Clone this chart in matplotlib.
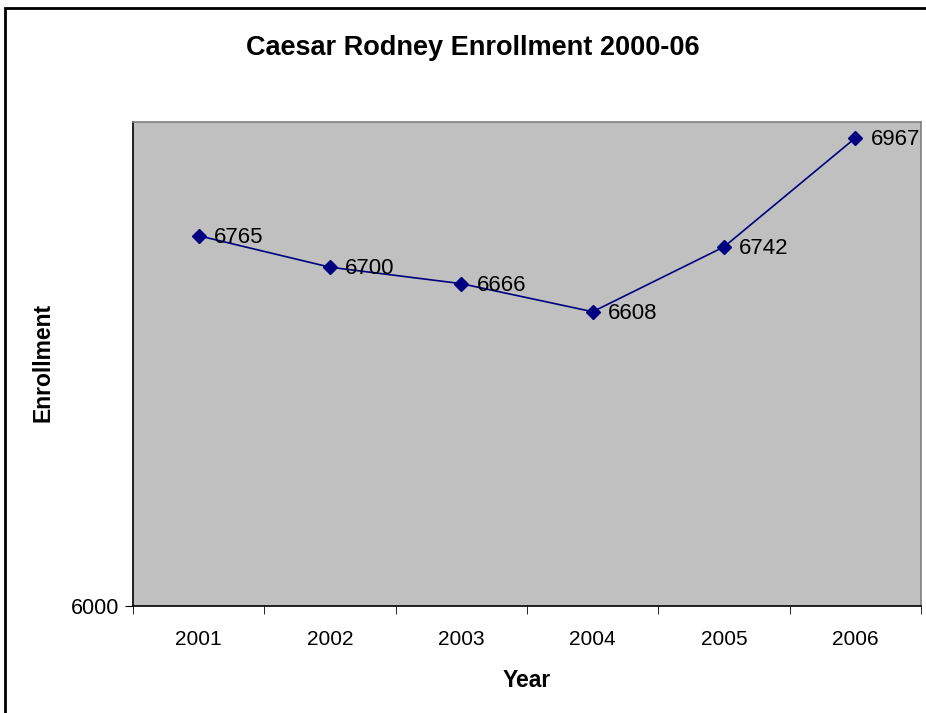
import matplotlib.pyplot as plt
import matplotlib.patches as patches
import numpy as np

# Données du graphique
years = ["2001", "2002", "2003", "2004", "2005", "2006"]
enrollment = [6765, 6700, 6666, 6608, 6742, 6967]

plt.rcParams['font.family'] = ['Liberation Sans', 'DejaVu Sans']

fig = plt.figure(figsize=(9.26, 7.13), dpi=100)
W, H = 926, 713

# Cadre noir autour de la figure (bords droit et bas hors image)
fig.patches.append(patches.Rectangle((5 / W, -0.05), 1.1, 1 - 8 / H + 0.05,
                                     transform=fig.transFigure, fill=False,
                                     edgecolor="black", linewidth=2))

ax = fig.add_axes([133 / W, (H - 606) / H, 788 / W, 484 / H])
ax.set_facecolor("#C0C0C0")

x = np.arange(len(years))
ax.plot(x, enrollment, color="#000080", linewidth=1.2, marker="D",
        markersize=7, markerfacecolor="#000080", markeredgecolor="#000080")

for xi, val in zip(x, enrollment):
    ax.annotate(str(val), (xi, val), xytext=(11, -1), textcoords="offset points",
                ha="left", va="center", fontsize=16, color="black")

ax.set_xlim(-0.5, len(years) - 0.5)
ax.set_ylim(6000, 7000)

ax.set_xticks(x)
ax.set_xticklabels(years, fontsize=15)
ax.set_xticks(np.arange(-0.5, len(years)), minor=True)
ax.tick_params(axis="x", which="major", length=0, pad=17)
ax.tick_params(axis="x", which="minor", length=6, direction="out", color="black")

ax.set_yticks([6000])
ax.set_yticklabels(["6000"], fontsize=15.5)
ax.tick_params(axis="y", length=6, direction="out", color="black", pad=4)

ax.spines["left"].set_color("black")
ax.spines["bottom"].set_color("black")
ax.spines["top"].set_color("#808080")
ax.spines["right"].set_color("#808080")
for s in ax.spines.values():
    s.set_linewidth(1.2)

ax.set_xlabel("Year", fontsize=16.5, fontweight="bold", labelpad=15)
fig.text(43 / W, 1 - 362 / H, "Enrollment", rotation=90, fontsize=16.5,
         fontweight="bold", ha="center", va="center")

fig.text(473 / W, 1 - 48 / H, "Caesar Rodney Enrollment 2000-06", fontsize=19.5,
         fontweight="bold", ha="center", va="center")

fig.savefig("out.png", dpi=100)
